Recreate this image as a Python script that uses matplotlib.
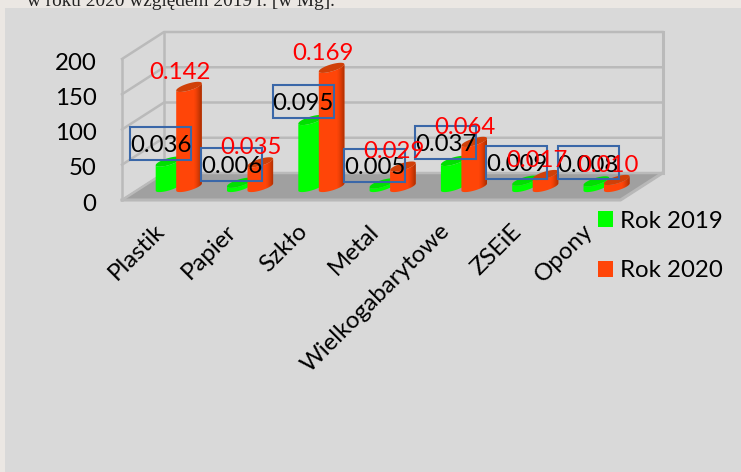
import matplotlib
matplotlib.use("Agg")
import matplotlib.pyplot as plt
import numpy as np
from matplotlib.patches import Patch, Rectangle
from matplotlib.transforms import ScaledTranslation

plt.rcParams['font.family'] = ['Lato', 'DejaVu Sans']

categories = ["Plastik", "Papier", "Szkło", "Metal", "Wielkogabarytowe", "ZSEiE", "Opony"]
rok_2019 = [36, 6, 95, 5, 37, 9, 8]
rok_2020 = [142, 35, 169, 29, 64, 17, 10]
y_ticks = [0, 50, 100, 150, 200]
header = "w roku 2020 względem 2019 r. [w Mg]."

W, H = 741, 472
GROUP_PX = 71.3   # px per category
UNIT_PX = 0.705   # px per value unit
X0_PX = 176       # px of category 0
Y0_PX = 200       # px of value 0 at the front of the floor
FS = 17.3


def xd(px):
    return (px - X0_PX) / GROUP_PX


def yd(px):
    return (Y0_PX - px) / UNIT_PX


fig = plt.figure(figsize=(W / 100, H / 100), dpi=100, facecolor="#ebe7e3")
fig.add_artist(Rectangle((5 / W, 0), 1, 1 - 8 / H, transform=fig.transFigure,
                         facecolor="#d9d9d9", edgecolor="none", zorder=-5))
fig.text(27 / W, 1 - 1 / H, header, family="Liberation Serif", fontsize=13.9,
         va="center", ha="left", color="#222222")

ax = fig.add_axes([0, 0, 1, 1])
ax.patch.set_visible(False)

# depth of the 3d box
dx = xd(164) - xd(122)
dy = (200 - 173) / UNIT_PX
left, right = xd(122), xd(620.5)

wall = "#bababa"
ax.fill([left + dx, right + dx, right, left], [dy, dy, 0, 0], color="#a0a0a0", zorder=1)
ax.plot([left, right, right + dx], [0, 0, dy], color="#b8b8b8", lw=2.2, zorder=1)
for t in y_ticks:
    ax.plot([left, left + dx, right + dx], [t, t + dy, t + dy], color=wall, lw=1.8, zorder=1)
ax.plot([left, left], [0, 200], color=wall, lw=1.8, zorder=1)
ax.plot([left + dx, left + dx], [dy, 200 + dy], color=wall, lw=1.8, zorder=1)
ax.plot([right + dx, right + dx], [dy, 200 + dy], color=wall, lw=2.2, zorder=1)

base = (Y0_PX - 187) / UNIT_PX
half_w = 12.8 / GROUP_PX
semi_b = 3.6 / UNIT_PX
shear = 3.6 / UNIT_PX
t_low = np.linspace(np.pi, 2 * np.pi, 40)
t_all = np.linspace(0, 2 * np.pi, 80)


def cylinder(cx, value, body, top, dark, z):
    # body outline: lower half of base ellipse then back along the top
    xs = cx + half_w * np.cos(t_low)
    ys = base + semi_b * np.sin(t_low) + shear * np.cos(t_low)
    xs = np.concatenate([xs, xs[::-1]])
    ys = np.concatenate([ys, ys[::-1] + value])
    poly = ax.fill(xs, ys, color=body, lw=0, zorder=z)[0]
    if dark is not None:
        rgb = matplotlib.colors.to_rgb(dark)
        alpha = np.clip((np.linspace(0, 1, 64) - 0.68) / 0.32, 0, 1) ** 1.4 * 0.85
        grad = np.zeros((1, 64, 4))
        grad[..., :3] = rgb
        grad[..., 3] = alpha
        im = ax.imshow(grad, extent=(cx - half_w, cx + half_w, base - semi_b - shear,
                                     base + value + semi_b + shear),
                       aspect="auto", zorder=z + 0.1, interpolation="bilinear")
        im.set_clip_path(poly)
    ax.fill(cx + half_w * np.cos(t_all),
            base + value + semi_b * np.sin(t_all) + shear * np.cos(t_all),
            color=top, lw=0, zorder=z + 0.2)


for i in range(len(categories)):
    cylinder(i + xd(168.5), rok_2019[i], "#00ff00", "#00e000", None, 3 + i)
    cylinder(i + xd(189), rok_2020[i], "#ff4508", "#d04008", "#962a00", 3.5 + i)

# data labels
box_w = 61 / GROUP_PX
box_h = 33 / UNIT_PX
down = ScaledTranslation(0, -1 / 72 * 1.5, fig.dpi_scale_trans)
for i in range(len(categories)):
    cx, cy = i + xd(160.5), rok_2019[i] + 44.5
    ax.add_patch(Rectangle((cx - box_w / 2, cy - box_h / 2), box_w, box_h, facecolor="none",
                           edgecolor="#3a67a8", linewidth=1.5, zorder=20))
    ax.text(cx, cy, f"{rok_2019[i] / 1000:.3f}", fontsize=FS, ha="center", va="center",
            color="black", zorder=20, transform=ax.transData + down)
for i in range(len(categories)):
    ax.text(i + xd(180), rok_2020[i] + 39.5, f"{rok_2020[i] / 1000:.3f}", fontsize=FS,
            ha="center", va="center", color="#ff0000", zorder=21)

ax.spines[["top", "right"]].set_visible(False)
ax.spines["left"].set_position(("data", xd(104)))
ax.spines["bottom"].set_position(("data", yd(212)))
ax.spines["left"].set_visible(False)
ax.spines["bottom"].set_visible(False)
ax.set_yticks(y_ticks)
ax.set_xticks(np.arange(len(categories)) + xd(154))
ax.set_xticklabels(categories, rotation=45, ha="right", rotation_mode="anchor")
ax.tick_params(axis="both", length=0, labelsize=FS, pad=6, labelcolor="black")
ax.tick_params(axis="y", pad=5.5)
for lab in ax.get_yticklabels():
    lab.set_transform(lab.get_transform() + down)

ax.set_xlim(xd(0), xd(W))
ax.set_ylim(yd(H), yd(0))

handles = [Patch(facecolor="#00ff00", label="Rok 2019"), Patch(facecolor="#ff4508", label="Rok 2020")]
ax.legend(handles=handles, loc="upper left", bbox_to_anchor=(593 / W, 1 - 206 / H),
          bbox_transform=fig.transFigure, frameon=False, fontsize=FS, handlelength=0.65,
          handleheight=0.65, handletextpad=0.27, labelspacing=1.18, borderaxespad=0, borderpad=0.2)

plt.savefig("out.png", dpi=100, facecolor=fig.get_facecolor())
